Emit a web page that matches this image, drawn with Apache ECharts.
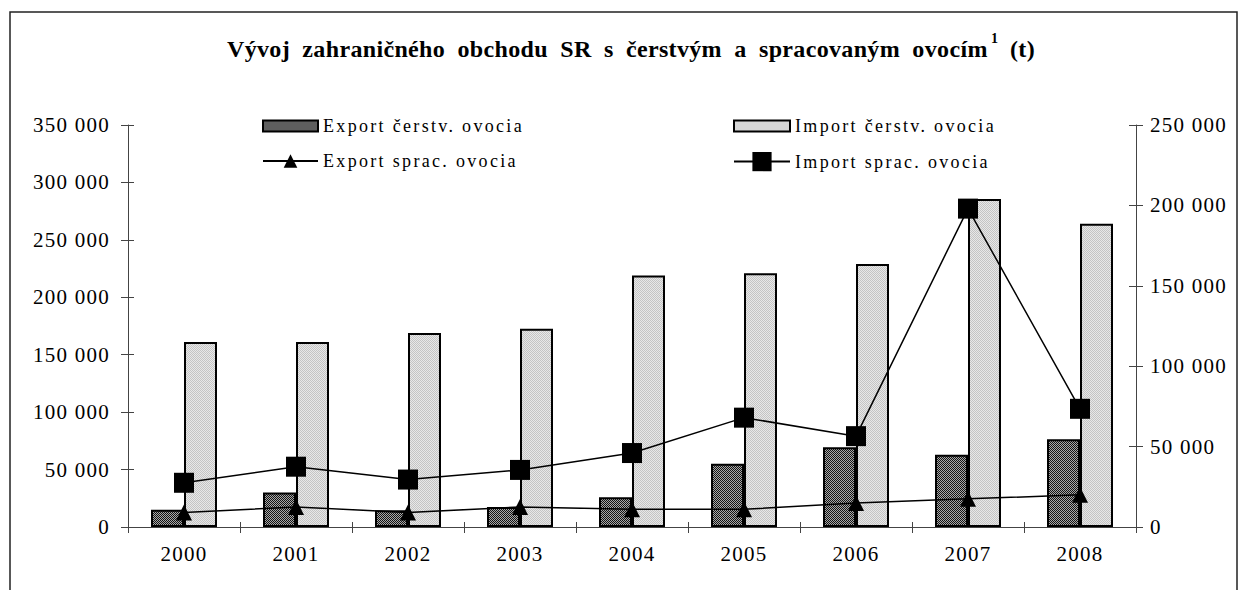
<!DOCTYPE html>
<html>
<head>
<meta charset="utf-8">
<script src="https://cdn.jsdelivr.net/npm/echarts@6/dist/echarts.min.js"></script>
<style>
  html, body { margin: 0; padding: 0; background: #fff; }
  #chart { width: 1241px; height: 590px; }
</style>
</head>
<body>
<div id="chart"></div>
<script>
// ---- data ----
const years = ['2000', '2001', '2002', '2003', '2004', '2005', '2006', '2007', '2008'];
const exportFresh = [15000, 30000, 14500, 17500, 26000, 55000, 69500, 63000, 76500];
const importFresh = [161000, 161000, 169000, 172500, 219000, 221000, 229000, 285500, 264000];
const exportProc = [9000, 12500, 9000, 12500, 11000, 11000, 15000, 17500, 20000];
const importProc = [27500, 37500, 29500, 35500, 46000, 68000, 56500, 198000, 73500];
const leftTicks = { min: 0, max: 350000, interval: 50000 };
const rightTicks = { min: 0, max: 250000, interval: 50000 };
const titleMain = 'Vývoj zahraničného obchodu SR s čerstvým a spracovaným ovocím';
const titleSup = '1';
const titleUnit = '(t)';
const names = ['Export čerstv. ovocia', 'Import čerstv. ovocia', 'Export sprac. ovocia', 'Import sprac. ovocia'];

// ---- styling helpers ----
const FAM = 'Liberation Serif';
const mc = document.createElement('canvas').getContext('2d');
function natural(text, font) { mc.font = font; return mc.measureText(text).width; }
function ls(text, font, target) {
  return Math.max(0, (target - natural(text, font)) / text.length);
}
const titleFont = 'bold 24px "' + FAM + '"';
const gaps = titleMain.split(' ').length - 1;
let wsTitle = 6;
let lsTitle = (761 - natural(titleMain, titleFont) - gaps * wsTitle) / titleMain.length;
if (lsTitle < 0) { lsTitle = 0; wsTitle = Math.max(0, (761 - natural(titleMain, titleFont)) / gaps); }
const lsLegend = ls(names[0], '18px "' + FAM + '"', 201);
const lsAxis = ls('250 000', '21px "' + FAM + '"', 77);
const st = document.createElement('style');
st.textContent =
  'text[style*="24px"]{letter-spacing:' + lsTitle.toFixed(2) + 'px;word-spacing:' + wsTitle.toFixed(2) + 'px}' +
  'text[style*="18px"]{letter-spacing:' + lsLegend.toFixed(2) + 'px}' +
  'text[style*="21px"]{letter-spacing:' + lsAxis.toFixed(2) + 'px}';
document.head.appendChild(st);

function makePattern(c1, c2) {
  const cv = document.createElement('canvas');
  cv.width = 2; cv.height = 2;
  const g = cv.getContext('2d');
  g.fillStyle = c2; g.fillRect(0, 0, 2, 2);
  g.fillStyle = c1; g.fillRect(0, 0, 1, 1); g.fillRect(1, 1, 1, 1);
  return { image: cv, repeat: 'repeat', imageWidth: 2, imageHeight: 2 };
}
const darkPat = makePattern('#141414', '#a8a8a8');
const lightPat = makePattern('#c4c4c4', '#e8e8e8');

function fmt(v) { return String(v).replace(/\B(?=(\d{3})+(?!\d))/g, ' '); }

const axisLineStyle = { color: '#444', width: 1 };
const labelStyle = { fontFamily: FAM, fontSize: 21, color: '#000' };

const chart = echarts.init(document.getElementById('chart'), null, { renderer: 'svg', width: 1241, height: 590 });

function legendBlock(name, left, top, itemW, itemH, icon) {
  const o = {
    data: [name], left: left, top: top, padding: 0, orient: 'horizontal',
    itemWidth: itemW, itemHeight: itemH, itemGap: 0, selectedMode: false,
    textStyle: { fontFamily: FAM, fontSize: 18, color: '#000' }
  };
  if (icon) o.icon = icon;
  return o;
}

function titleText(text, x, y, size) {
  return {
    type: 'text', x: x, y: y, silent: true,
    style: { text: text, fontFamily: FAM, fontSize: size, fontWeight: 'bold', fill: '#000', textAlign: 'left', textVerticalAlign: 'middle' }
  };
}

chart.setOption({
  animation: false,
  backgroundColor: '#fff',
  graphic: [
    { type: 'rect', shape: { x: 10, y: 12, width: 1227, height: 640 }, style: { fill: 'none', stroke: '#222', lineWidth: 1.5 }, silent: true, z: -10 },
    titleText(titleMain, 227, 49, 24),
    titleText(titleSup, 991, 38, 14),
    titleText(titleUnit, 1010, 49, 24)
  ],
  legend: [
    legendBlock(names[0], 262, 117, 55, 11, 'rect'),
    legendBlock(names[1], 733, 117, 56, 11, 'rect'),
    legendBlock(names[2], 262, 152, 55, 17),
    legendBlock(names[3], 733, 152, 56, 24)
  ],
  grid: { left: 128, right: 105, top: 125, bottom: 63, containLabel: false },
  xAxis: [
    {
      type: 'category', data: years, position: 'bottom',
      axisLine: { lineStyle: axisLineStyle },
      axisTick: { show: true, inside: false, length: 6, interval: 0, lineStyle: axisLineStyle },
      axisLabel: Object.assign({ margin: 16, interval: 0 }, labelStyle),
      splitLine: { show: false }
    },
    {
      type: 'category', data: years, position: 'bottom',
      axisLine: { show: false },
      axisTick: { show: true, inside: true, length: 5, interval: 0, lineStyle: axisLineStyle },
      axisLabel: { show: false },
      splitLine: { show: false }
    }
  ],
  yAxis: [
    {
      type: 'value', position: 'left', min: leftTicks.min, max: leftTicks.max, interval: leftTicks.interval,
      axisLine: { show: true, lineStyle: axisLineStyle },
      axisTick: { show: true, inside: false, length: 7, lineStyle: axisLineStyle },
      axisLabel: Object.assign({ margin: 18, formatter: fmt }, labelStyle),
      splitLine: { show: false }
    },
    {
      type: 'value', position: 'left', min: leftTicks.min, max: leftTicks.max, interval: leftTicks.interval,
      axisLine: { show: false },
      axisTick: { show: true, inside: true, length: 6, lineStyle: axisLineStyle },
      axisLabel: { show: false },
      splitLine: { show: false }
    },
    {
      type: 'value', position: 'right', min: rightTicks.min, max: rightTicks.max, interval: rightTicks.interval,
      axisLine: { show: true, lineStyle: axisLineStyle },
      axisTick: { show: true, inside: false, length: 7, lineStyle: axisLineStyle },
      axisLabel: Object.assign({ margin: 14, formatter: fmt }, labelStyle),
      splitLine: { show: false }
    },
    {
      type: 'value', position: 'right', min: rightTicks.min, max: rightTicks.max, interval: rightTicks.interval,
      axisLine: { show: false },
      axisTick: { show: true, inside: true, length: 7, lineStyle: axisLineStyle },
      axisLabel: { show: false },
      splitLine: { show: false }
    }
  ],
  series: [
    {
      name: names[0], type: 'bar', xAxisIndex: 0, yAxisIndex: 0, data: exportFresh,
      barWidth: 33, barGap: '0%',
      itemStyle: { color: darkPat, borderColor: '#000', borderWidth: 2 }
    },
    {
      name: names[1], type: 'bar', xAxisIndex: 0, yAxisIndex: 0, data: importFresh,
      barWidth: 33, barGap: '0%',
      itemStyle: { color: lightPat, borderColor: '#000', borderWidth: 2 }
    },
    {
      name: names[2], type: 'line', xAxisIndex: 0, yAxisIndex: 2, data: exportProc,
      symbol: 'triangle', symbolSize: 16, showAllSymbol: true, z: 5,
      lineStyle: { color: '#000', width: 1.5 },
      itemStyle: { color: '#000', borderWidth: 0 }
    },
    {
      name: names[3], type: 'line', xAxisIndex: 0, yAxisIndex: 2, data: importProc,
      symbol: 'rect', symbolSize: 20, showAllSymbol: true, z: 6,
      lineStyle: { color: '#000', width: 1.5 },
      itemStyle: { color: '#000', borderWidth: 0 }
    }
  ]
});
</script>
</body>
</html>
